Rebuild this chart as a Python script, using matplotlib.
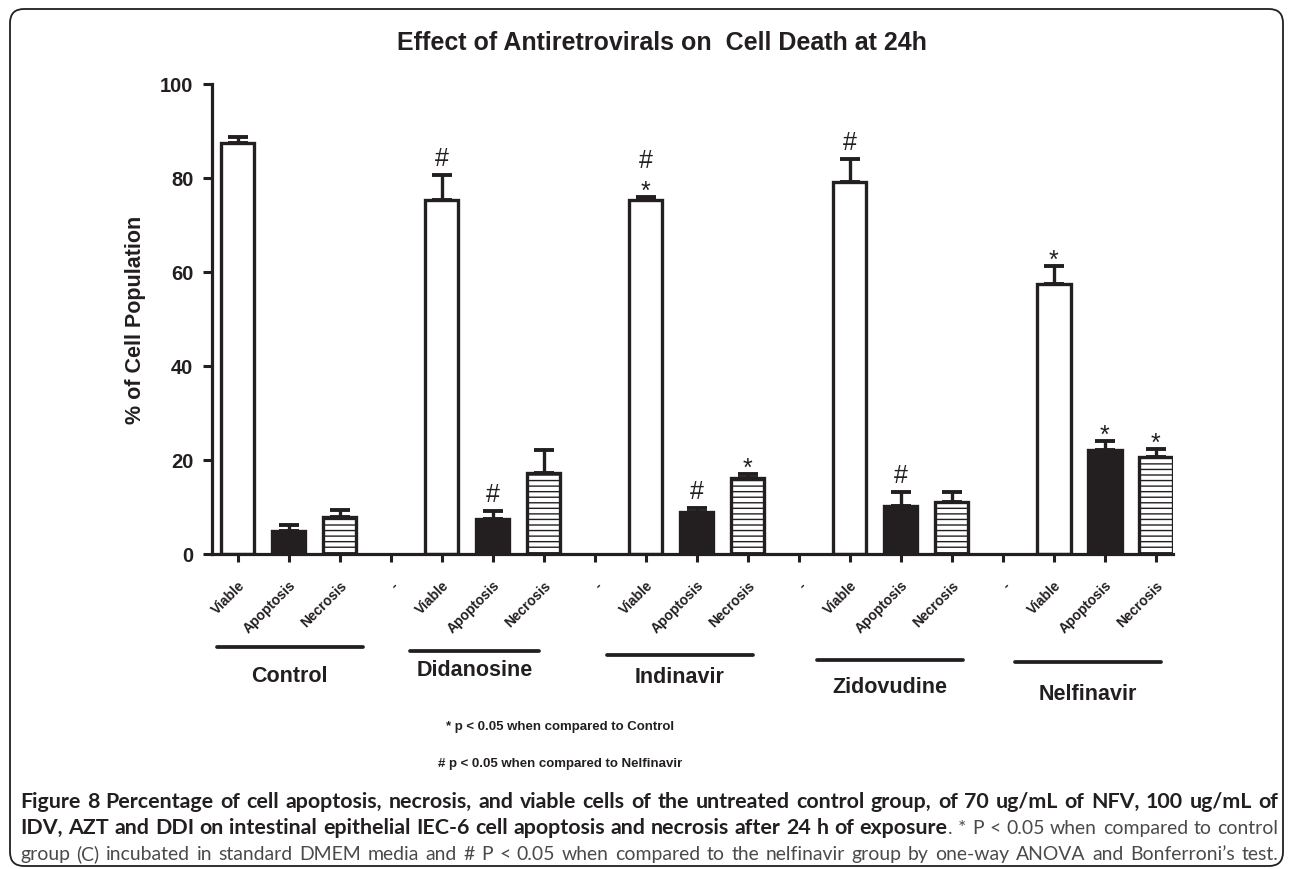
import matplotlib
matplotlib.use("Agg")
import matplotlib.pyplot as plt
import matplotlib.transforms as mtransforms
from matplotlib.patches import FancyBboxPatch
from matplotlib.lines import Line2D
import numpy as np

# ---------------- data ----------------
groups = ["Control", "Didanosine", "Indinavir", "Zidovudine", "Nelfinavir"]
measures = ["Viable", "Apoptosis", "Necrosis"]
separator_label = "-"

viable = [87.5, 75.4, 75.3, 79.1, 57.5]
viable_err = [1.2, 5.2, 0.7, 4.9, 3.8]
apoptosis = [4.8, 7.4, 9.0, 10.2, 22.2]
apoptosis_err = [1.4, 1.8, 0.8, 3.0, 1.8]
necrosis = [7.8, 17.3, 16.2, 11.1, 20.6]
necrosis_err = [1.5, 4.8, 0.8, 2.1, 1.7]

# significance marks, listed bottom -> top
viable_marks = [[], ["#"], ["*", "#"], ["#"], ["*"]]
apoptosis_marks = [[], ["#"], ["#"], ["#"], ["*"]]
necrosis_marks = [[], [], ["*"], [], ["*"]]

y_ticks = [0, 20, 40, 60, 80, 100]

title = "Effect of Antiretrovirals on  Cell Death at 24h"
y_label = "% of Cell Population"
footnote_1 = "* p < 0.05 when compared to Control"
footnote_2 = "# p < 0.05 when compared to Nelfinavir"

caption_lines = [
    [("Figure 8 Percentage of cell apoptosis, necrosis, and viable cells of the untreated control group, of 70 ug/mL of NFV, 100 ug/mL of", "bold")],
    [("IDV, AZT and DDI on intestinal epithelial IEC-6 cell apoptosis and necrosis after 24 h of exposure", "bold"),
     (". * P < 0.05 when compared to control", "normal")],
    [("group (C) incubated in standard DMEM media and # P < 0.05 when compared to the nelfinavir group by one-way ANOVA and Bonferroni\u2019s test.", "normal")],
]

# ---------------- style ----------------
W, H = 1290, 870
DPI = 100
INK = "#231f20"
CAP_INK = "#4a4a4a"
FONT = "Liberation Sans"
CAP_FONT = ["Lato", "Liberation Sans"]

plt.rcParams["font.family"] = [FONT, "DejaVu Sans"]
plt.rcParams["hatch.linewidth"] = 1.0
plt.rcParams["hatch.color"] = INK

fig = plt.figure(figsize=(W / DPI, H / DPI), dpi=DPI)
fig.patch.set_facecolor("white")

# axes geometry (pixels)
ax_left, ax_right, ax_top, ax_bottom = 212, 1173, 85, 555
ax = fig.add_axes([ax_left / W, 1 - ax_bottom / H,
                   (ax_right - ax_left) / W, (ax_bottom - ax_top) / H])

n_groups = len(groups)
stride = len(measures) + 1
pos = {m: [g * stride + i for g in range(n_groups)] for i, m in enumerate(measures)}

bar_w = 0.66
bar_lw = 2.4
series = [
    ("Viable", viable, viable_err, viable_marks, dict(color="white", hatch=None)),
    ("Apoptosis", apoptosis, apoptosis_err, apoptosis_marks, dict(color=INK, hatch=None)),
    ("Necrosis", necrosis, necrosis_err, necrosis_marks, dict(color="white", hatch="---")),
]

for name, vals, errs, marks, st in series:
    x = pos[name]
    ax.bar(x, vals, width=bar_w, color=st["color"], edgecolor=INK,
           linewidth=bar_lw, hatch=st["hatch"], zorder=2)
    ax.errorbar(x, vals, yerr=[np.zeros(len(vals)), errs], fmt="none",
                ecolor=INK, elinewidth=2.4, capsize=7.5, capthick=2.8, zorder=3)
    for xi, v, e, mk in zip(x, vals, errs, marks):
        top = v + e
        offset = 0
        for k, sym in enumerate(mk):
            if sym == "#":
                dy = 10 + offset
                offset += 26
            else:
                dy = -1 + offset
                offset += 20
            ax.annotate(sym, xy=(xi, top), xytext=(0, dy), textcoords="offset pixels",
                        ha="center", va="baseline", fontsize=18, color=INK,
                        family=FONT, zorder=4)

# ticks
tick_pos, tick_lab = [], []
for g in range(n_groups):
    for i, m in enumerate(measures):
        tick_pos.append(g * stride + i)
        tick_lab.append(m)
    if g < n_groups - 1:
        tick_pos.append(g * stride + len(measures))
        tick_lab.append(separator_label)

ax.set_xticks(tick_pos)
ax.set_xticklabels(tick_lab, rotation=45, ha="right", rotation_mode="anchor",
                   fontsize=10, fontweight="bold", color=INK)
ax.set_xlim(-0.5, (ax_right - 237.7) / 51.0)
ax.set_ylim(0, 100)
ax.set_yticks(y_ticks)
ax.set_yticklabels([str(t) for t in y_ticks], fontsize=14.5, fontweight="bold", color=INK)

for side in ["top", "right"]:
    ax.spines[side].set_visible(False)
for side in ["left", "bottom"]:
    ax.spines[side].set_linewidth(2.3)
    ax.spines[side].set_color(INK)
    ax.spines[side].set_capstyle("projecting")
ax.tick_params(axis="y", length=6.5, width=2.2, color=INK, pad=7)
ax.tick_params(axis="x", length=6, width=2.2, color=INK, pad=11)
ax.set_facecolor("none")

ax.set_ylabel(y_label, fontsize=15.5, fontweight="bold", color=INK)
ax.yaxis.set_label_coords(-0.069, 0.5)

# group underlines and names
blend = mtransforms.blended_transform_factory(ax.transData, fig.transFigure)
line_spans = [(-0.41, 2.46), (3.38, 5.91), (7.25, 10.1), (11.36, 14.22), (15.24, 18.1)]
line_y = [648, 652, 656, 661, 663]
name_y = [677, 671, 678, 688, 695]
for gname, (x0, x1), ly, ny in zip(groups, line_spans, line_y, name_y):
    fig.add_artist(Line2D([x0, x1], [1 - ly / H, 1 - ly / H], transform=blend,
                          color=INK, lw=2.7, solid_capstyle="round"))
    fig.text((x0 + x1) / 2, 1 - ny / H, gname, transform=blend, fontsize=15.5,
             fontweight="bold", color=INK, ha="center", va="center")

# title
fig.text(662 / W, 1 - 43 / H, title, fontsize=18, fontweight="bold", color=INK,
         ha="center", va="center")

# footnotes
fig.text(560 / W, 1 - 727 / H, footnote_1, fontsize=9.5, fontweight="bold",
         color=INK, ha="center", va="center")
fig.text(560 / W, 1 - 764 / H, footnote_2, fontsize=9.5, fontweight="bold",
         color=INK, ha="center", va="center")

# caption (justified)
fig.canvas.draw()
renderer = fig.canvas.get_renderer()
cap_x0, cap_x1 = 20, 1278
cap_base = [808, 834, 860]


def fit_size(txt, weight, frac):
    probe = fig.text(0, 0, txt, fontsize=14, fontweight=weight, family=CAP_FONT)
    pw = probe.get_window_extent(renderer).width
    probe.remove()
    return 14 * (cap_x1 - cap_x0) / pw * frac


cap_fs = {"bold": fit_size(caption_lines[0][0][0], "bold", 0.985),
          "normal": fit_size(caption_lines[2][0][0], "normal", 0.975)}


def split_words(segments):
    words = []
    for txt, wt in segments:
        pieces = txt.split(" ")
        for j, p in enumerate(pieces):
            if p == "":
                continue
            if j == 0 and words and not txt.startswith(" "):
                words[-1].append((p, wt))
            else:
                words.append([(p, wt)])
    return words


for segs, yb in zip(caption_lines, cap_base):
    words = split_words(segs)
    items = []
    total = 0
    for word in words:
        parts = []
        for txt, wt in word:
            t = fig.text(0, 1 - yb / H, txt, fontsize=cap_fs[wt], fontweight=wt, family=CAP_FONT,
                         color=INK if wt == "bold" else CAP_INK, ha="left", va="baseline")
            w = t.get_window_extent(renderer).width
            parts.append((t, w))
            total += w
        items.append(parts)
    gap = (cap_x1 - cap_x0 - total) / (len(items) - 1)
    x = cap_x0
    for parts in items:
        for t, w in parts:
            t.set_x(x / W)
            x += w
        x += gap

# rounded border
border = FancyBboxPatch((10, 3), 1273, 857, boxstyle="round,pad=0,rounding_size=14",
                        transform=mtransforms.IdentityTransform(), fill=False,
                        edgecolor=INK, linewidth=1.3)
fig.add_artist(border)

fig.savefig("out.png", dpi=DPI, facecolor="white")
